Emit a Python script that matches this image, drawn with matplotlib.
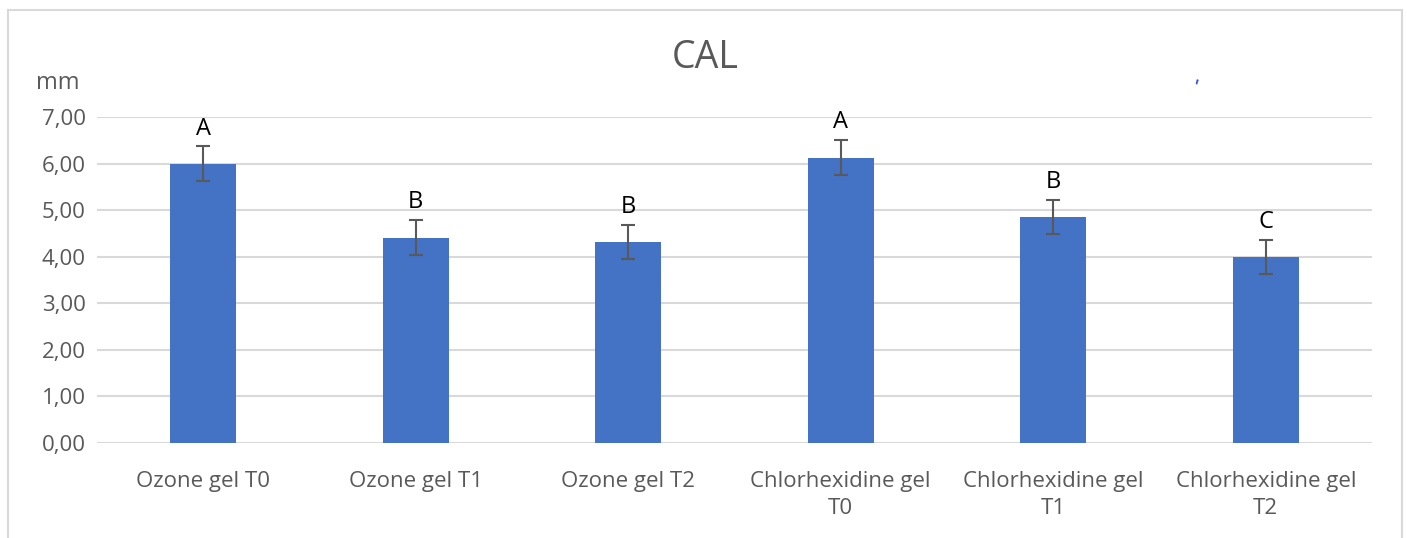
import matplotlib.pyplot as plt
import numpy as np
from matplotlib.patches import Rectangle

# data
categories = ["Ozone gel T0", "Ozone gel T1", "Ozone gel T2",
              "Chlorhexidine gel\nT0", "Chlorhexidine gel\nT1", "Chlorhexidine gel\nT2"]
cal_means = [6.00, 4.41, 4.32, 6.13, 4.85, 3.99]
cal_err = [0.37, 0.38, 0.37, 0.38, 0.37, 0.37]
groups = ["A", "B", "B", "A", "B", "C"]
yticks = [0, 1, 2, 3, 4, 5, 6, 7]

plt.rcParams['font.family'] = ['Open Sans', 'DejaVu Sans']

fig = plt.figure(figsize=(14.07, 5.38), dpi=100)
ax = fig.add_axes([97 / 1407, 1 - 443 / 538, (1372 - 97) / 1407, (443 - 117) / 538])

x = np.arange(len(categories))
ax.bar(x, cal_means, width=0.31, color="#4472c4", zorder=2)
ax.errorbar(x, cal_means, yerr=cal_err, fmt="none", ecolor="#595959",
            elinewidth=1.5, capsize=5, capthick=1.5, zorder=3)

# significance letters above error bars
for xi, m, e, g in zip(x, cal_means, cal_err, groups):
    ax.text(xi, m + e + 0.38, g, ha="center", va="center", fontsize=17, color="black")

ax.set_xlim(-0.5, len(categories) - 0.5)
ax.set_ylim(0, 7)
ax.set_yticks(yticks)
ax.set_yticklabels(["%d,00" % v for v in yticks], fontsize=16, color="#595959")
ax.set_xticks(x)
ax.set_xticklabels(categories, fontsize=16, color="#595959", linespacing=1.4)
ax.tick_params(axis="y", length=0, pad=8)
ax.tick_params(axis="x", length=0, pad=20)
ax.grid(axis="y", color="#d9d9d9", linewidth=1.5, zorder=0)
for s in ax.spines.values():
    s.set_visible(False)

fig.text(705 / 1407, 1 - 58 / 538, "CAL", ha="center", va="center",
         fontsize=27, color="#595959")
fig.text(58 / 1407, 1 - 83 / 538, "mm", ha="center", va="center",
         fontsize=17, color="#595959")
# stray blue mark in the original
fig.text(1195 / 1407, 1 - 87 / 538, "'", ha="center", va="center",
         fontsize=12, color="#3b4fd6", fontweight="bold", rotation=-15)

# light frame around the chart
fig.patches.append(Rectangle((8 / 1407, -0.05), (1402 - 8) / 1407, 1.05 - 10 / 538,
                             transform=fig.transFigure, fill=False,
                             edgecolor="#d9d9d9", linewidth=1.5))

fig.savefig("out.png", dpi=100)
